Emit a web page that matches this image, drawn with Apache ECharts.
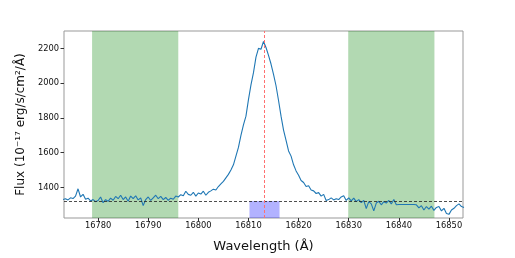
<!DOCTYPE html>
<html>
<head>
<meta charset="utf-8">
<script src="https://cdn.jsdelivr.net/npm/echarts@6/dist/echarts.min.js"></script>
<style>html,body{margin:0;padding:0;background:#fff}#c{width:515px;height:258px}</style>
</head>
<body>
<div id="c"></div>
<script>
// [wavelength (Å), flux]
const spectrum = [
[16773.0,1330],[16773.5,1335],[16774.0,1328],[16774.5,1340],[16775.0,1336],[16775.5,1350],[16776.0,1392],[16776.5,1345],
[16777.0,1360],[16777.5,1332],[16778.0,1338],[16778.5,1322],[16779.0,1330],[16779.5,1318],[16780.0,1325],[16780.5,1345],
[16781.0,1312],[16781.5,1330],[16782.0,1320],[16782.5,1338],[16783.0,1326],[16783.5,1348],[16784.0,1335],[16784.5,1355],
[16785.0,1330],[16785.5,1345],[16786.0,1320],[16786.5,1350],[16787.0,1335],[16787.5,1352],[16788.0,1328],[16788.5,1340],
[16789.0,1295],[16789.5,1330],[16790.0,1345],[16790.5,1325],[16791.0,1340],[16791.5,1355],[16792.0,1335],[16792.5,1348],
[16793.0,1330],[16793.5,1342],[16794.0,1326],[16794.5,1338],[16795.0,1332],[16795.5,1350],[16796.0,1345],[16796.5,1358],
[16797.0,1352],[16797.5,1378],[16798.0,1360],[16798.5,1355],[16799.0,1372],[16799.5,1350],[16800.0,1368],[16800.5,1362],
[16801.0,1378],[16801.5,1355],[16802.0,1372],[16802.5,1380],[16803.0,1390],[16803.5,1385],[16804.0,1405],[16804.5,1420],
[16805.0,1435],[16805.5,1455],[16806.0,1475],[16806.5,1500],[16807.0,1530],[16807.5,1580],[16808.0,1630],[16808.5,1700],
[16809.0,1760],[16809.5,1810],[16810.0,1905],[16810.5,1990],[16811.0,2060],[16811.5,2150],[16812.0,2200],[16812.5,2195],
[16813.0,2240],[16813.5,2205],[16814.0,2160],[16814.5,2110],[16815.0,2050],[16815.5,1985],[16816.0,1900],[16816.5,1810],
[16817.0,1730],[16817.5,1670],[16818.0,1610],[16818.5,1580],[16819.0,1530],[16819.5,1495],[16820.0,1470],[16820.5,1440],
[16821.0,1428],[16821.5,1405],[16822.0,1410],[16822.5,1385],[16823.0,1380],[16823.5,1365],[16824.0,1370],[16824.5,1350],
[16825.0,1360],[16825.5,1325],[16826.0,1330],[16826.5,1340],[16827.0,1328],[16827.5,1335],[16828.0,1330],[16828.5,1345],
[16829.0,1352],[16829.5,1325],[16830.0,1340],[16830.5,1322],[16831.0,1338],[16831.5,1318],[16832.0,1330],[16832.5,1312],
[16833.0,1325],[16833.5,1278],[16834.0,1318],[16834.5,1305],[16835.0,1265],[16835.5,1310],[16836.0,1320],[16836.5,1300],
[16837.0,1318],[16837.5,1310],[16838.0,1325],[16838.5,1305],[16839.0,1330],[16839.5,1300],[16840.0,1302],[16840.5,1302],
[16841.0,1302],[16841.5,1302],[16842.0,1302],[16842.5,1302],[16843.0,1302],[16843.5,1300],[16844.0,1282],[16844.5,1295],
[16845.0,1270],[16845.5,1290],[16846.0,1275],[16846.5,1292],[16847.0,1268],[16847.5,1285],[16848.0,1290],[16848.5,1265],
[16849.0,1280],[16849.5,1250],[16850.0,1245],[16850.5,1270],[16851.0,1280],[16851.5,1295],[16852.0,1305],[16852.5,1290],
[16853.0,1285]
];
const continuumWindows = [[16778.8,16796.0],[16829.9,16847.1]];
const lineWindow = [16810.2,16816.2];
const lineCenter = 16813.2;
const continuumLevel = 1322;
const xTicks = [16780,16790,16800,16810,16820,16830,16840,16850];
const yTicks = [1400,1600,1800,2000,2200];
const xRange = [16773.2,16852.8];
const yRange = [1224,2300];

const chart = echarts.init(document.getElementById('c'));
const font = 'DejaVu Sans';
const plain = v => String(v);
chart.setOption({
  animation:false,
  backgroundColor:'#fff',
  grid:{left:64,right:52,top:31,bottom:33,show:true,borderColor:'#999',borderWidth:1,backgroundColor:'transparent'},
  xAxis:{type:'value',min:xRange[0],max:xRange[1],
    name:'Wavelength (Å)',nameLocation:'middle',nameGap:22,
    nameTextStyle:{fontFamily:font,fontSize:13,color:'#111'},
    axisLine:{show:false},splitLine:{show:false},
    axisTick:{show:true,length:3.5,inside:false,customValues:xTicks,lineStyle:{color:'#333'}},
    axisLabel:{customValues:xTicks,formatter:plain,fontFamily:font,fontSize:8.3,color:'#111',margin:4}
  },
  yAxis:{type:'value',min:yRange[0],max:yRange[1],
    name:'Flux (10⁻¹⁷ erg/s/cm²/Å)',nameLocation:'middle',nameGap:20,
    nameTextStyle:{fontFamily:font,fontSize:12,color:'#111',padding:[0,0,6,0]},
    axisLine:{show:false},splitLine:{show:false},
    axisTick:{show:true,length:3.5,customValues:yTicks,lineStyle:{color:'#333'}},
    axisLabel:{customValues:yTicks,formatter:plain,fontFamily:font,fontSize:8.3,color:'#111',margin:5}
  },
  series:[
    {type:'line',z:1,data:spectrum,showSymbol:false,lineStyle:{opacity:0},silent:true,
      markArea:{silent:true,data:[
        [{coord:[continuumWindows[0][0],yRange[0]],itemStyle:{color:'rgba(0,128,0,0.3)'}},{coord:[continuumWindows[0][1],yRange[1]]}],
        [{coord:[continuumWindows[1][0],yRange[0]],itemStyle:{color:'rgba(0,128,0,0.3)'}},{coord:[continuumWindows[1][1],yRange[1]]}],
        [{coord:[lineWindow[0],yRange[0]],itemStyle:{color:'rgba(0,0,255,0.3)'}},{coord:[lineWindow[1],continuumLevel]}]
      ]}
    },
    {type:'line',z:3,data:spectrum,showSymbol:false,symbol:'none',
      lineStyle:{color:'#1f77b4',width:1.1}
    },
    {type:'line',z:4,data:[],silent:true,
      markLine:{silent:true,symbol:'none',label:{show:false},
        lineStyle:{color:'#222',type:[3,2],width:0.8},
        data:[{yAxis:continuumLevel}]}
    },
    {type:'line',z:4,data:[],silent:true,
      markLine:{silent:true,symbol:'none',label:{show:false},
        lineStyle:{color:'#ff7070',type:[3,2],width:1},
        data:[{xAxis:lineCenter}]}
    }
  ]
});
</script>
</body>
</html>
